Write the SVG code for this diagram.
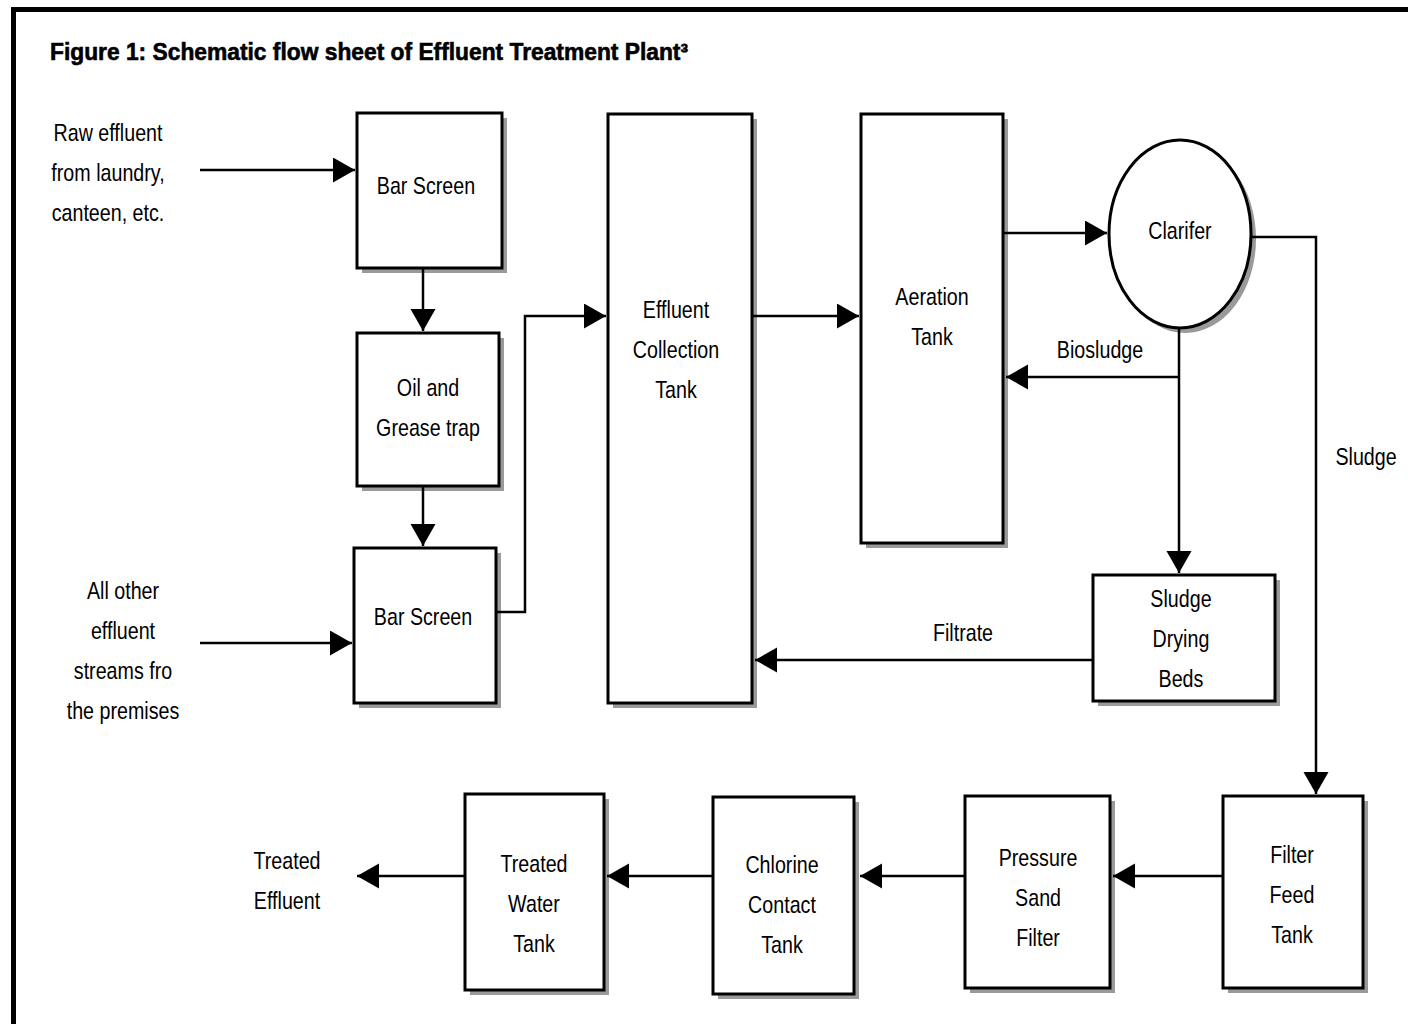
<svg xmlns="http://www.w3.org/2000/svg" width="1408" height="1024" viewBox="0 0 1408 1024">
<style>
.box{fill:#fff;stroke:#000;stroke-width:3}
.sh{fill:#9a9a9a}
.t{font-family:"Liberation Sans",Arial,sans-serif;font-size:24px;fill:#000;text-anchor:middle}
.title{font-family:"Liberation Sans",Arial,sans-serif;font-size:23px;font-weight:bold;fill:#000;stroke:#000;stroke-width:0.6}
.c{fill:none;stroke:#000;stroke-width:2.5}
.a{marker-end:url(#ah)}
</style>
<defs>
<marker id="ah" markerUnits="userSpaceOnUse" markerWidth="23" markerHeight="26" refX="22" refY="12.5" orient="auto">
<path d="M0,0 L22,12.5 L0,25 Z" fill="#000"/>
</marker>
</defs>
<rect width="1408" height="1024" fill="#fff"/>
<path d="M13.5,1024 V9.5 H1408" fill="none" stroke="#000" stroke-width="5"/>
<text class="title" x="50" y="60" textLength="638" lengthAdjust="spacingAndGlyphs">Figure 1: Schematic flow sheet of Effluent Treatment Plant³</text>

<g id="bar-screen-1"><rect class="sh" x="362" y="118" width="145" height="155"/><rect class="box" x="357" y="113" width="145" height="155"/></g>
<g id="oil-grease-trap"><rect class="sh" x="362" y="338" width="142" height="153"/><rect class="box" x="357" y="333" width="142" height="153"/></g>
<g id="bar-screen-2"><rect class="sh" x="359" y="553" width="142" height="155"/><rect class="box" x="354" y="548" width="142" height="155"/></g>
<g id="effluent-collection-tank"><rect class="sh" x="613" y="119" width="144" height="589"/><rect class="box" x="608" y="114" width="144" height="589"/></g>
<g id="aeration-tank"><rect class="sh" x="866" y="119" width="142" height="429"/><rect class="box" x="861" y="114" width="142" height="429"/></g>
<g id="clarifer"><ellipse class="sh" cx="1185" cy="239" rx="71" ry="94"/><ellipse class="box" cx="1180" cy="234" rx="71" ry="94"/></g>
<g id="sludge-drying-beds"><rect class="sh" x="1098" y="580" width="182" height="126"/><rect class="box" x="1093" y="575" width="182" height="126"/></g>
<g id="filter-feed-tank"><rect class="sh" x="1228" y="801" width="140" height="192"/><rect class="box" x="1223" y="796" width="140" height="192"/></g>
<g id="pressure-sand-filter"><rect class="sh" x="970" y="801" width="145" height="192"/><rect class="box" x="965" y="796" width="145" height="192"/></g>
<g id="chlorine-contact-tank"><rect class="sh" x="718" y="802" width="141" height="197"/><rect class="box" x="713" y="797" width="141" height="197"/></g>
<g id="treated-water-tank"><rect class="sh" x="470" y="799" width="139" height="196"/><rect class="box" x="465" y="794" width="139" height="196"/></g>

<g id="connectors">
<path class="c a" d="M200,170 H355"/>
<path class="c a" d="M423,268 V331"/>
<path class="c a" d="M423,486 V546"/>
<path class="c a" d="M200,643 H352"/>
<path class="c a" d="M496,612 H525 V316 H606"/>
<path class="c a" d="M752,316 H859"/>
<path class="c a" d="M1003,233 H1107"/>
<path class="c" d="M1179,328 V377"/>
<path class="c a" d="M1179,377 H1006"/>
<path class="c a" d="M1179,377 V573"/>
<path class="c a" d="M1093,660 H755"/>
<path class="c a" d="M1251,237 H1316 V794"/>
<path class="c a" d="M1223,876 H1113"/>
<path class="c a" d="M965,876 H860"/>
<path class="c a" d="M713,876 H607"/>
<path class="c a" d="M465,876 H357"/>
</g>

<g id="labels" transform="scale(0.82,1)">
<text class="t" x="131.7" y="141">Raw effluent</text><text class="t" x="131.7" y="181">from laundry,</text><text class="t" x="131.7" y="221">canteen, etc.</text>
<text class="t" x="150" y="599">All other</text><text class="t" x="150" y="639">effluent</text><text class="t" x="150" y="679">streams fro</text><text class="t" x="150" y="719">the premises</text>
<text class="t" x="350" y="869">Treated</text><text class="t" x="350" y="909">Effluent</text>
<text class="t" x="519.5" y="194">Bar Screen</text>
<text class="t" x="522" y="396">Oil and</text><text class="t" x="522" y="436">Grease trap</text>
<text class="t" x="515.9" y="625">Bar Screen</text>
<text class="t" x="824.4" y="318">Effluent</text><text class="t" x="824.4" y="358">Collection</text><text class="t" x="824.4" y="398">Tank</text>
<text class="t" x="1136.6" y="305">Aeration</text><text class="t" x="1136.6" y="345">Tank</text>
<text class="t" x="1439" y="239">Clarifer</text>
<text class="t" x="1440.2" y="607">Sludge</text><text class="t" x="1440.2" y="647">Drying</text><text class="t" x="1440.2" y="687">Beds</text>
<text class="t" x="1575.6" y="863">Filter</text><text class="t" x="1575.6" y="903">Feed</text><text class="t" x="1575.6" y="943">Tank</text>
<text class="t" x="1265.9" y="866">Pressure</text><text class="t" x="1265.9" y="906">Sand</text><text class="t" x="1265.9" y="946">Filter</text>
<text class="t" x="953.7" y="873">Chlorine</text><text class="t" x="953.7" y="913">Contact</text><text class="t" x="953.7" y="953">Tank</text>
<text class="t" x="651.2" y="872">Treated</text><text class="t" x="651.2" y="912">Water</text><text class="t" x="651.2" y="952">Tank</text>
<text class="t" x="1341.5" y="358">Biosludge</text>
<text class="t" x="1174.4" y="641">Filtrate</text>
<text class="t" x="1665.9" y="465">Sludge</text>
</g>
</svg>
